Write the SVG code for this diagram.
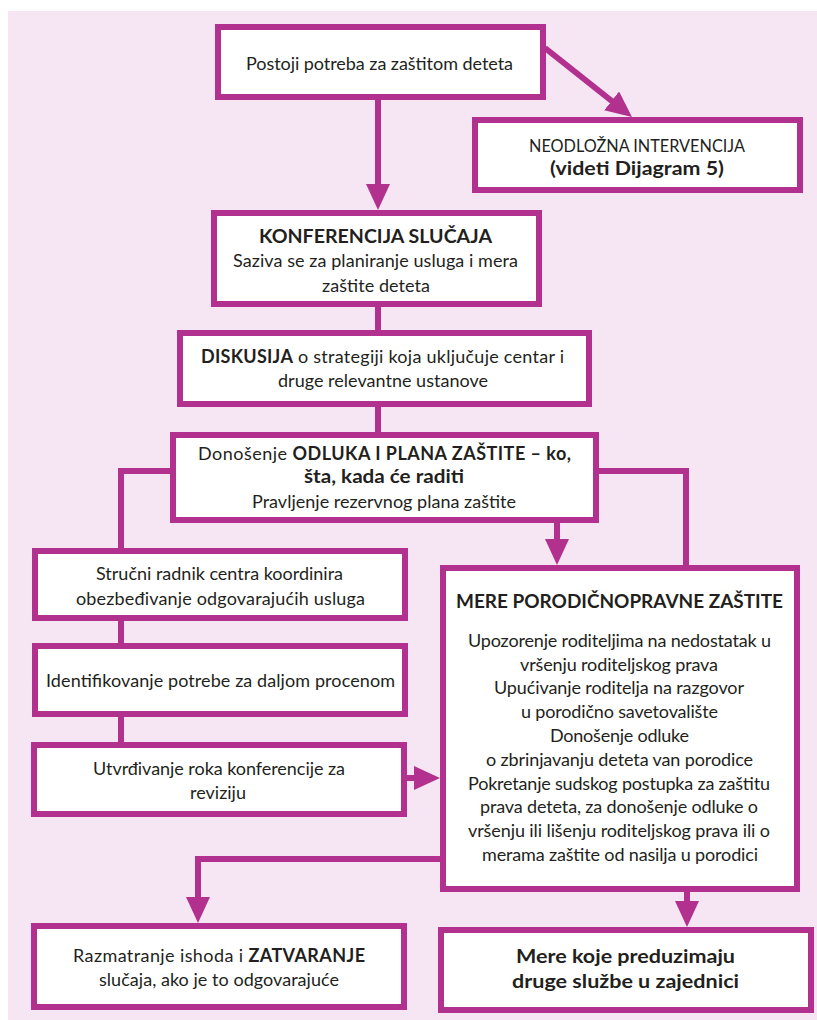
<svg xmlns="http://www.w3.org/2000/svg" width="817" height="1020" viewBox="0 0 817 1020">
<style>
.bg{fill:#f6e5f3}
.box{fill:#ffffff;stroke:#b2308e;stroke-width:6}
.con{fill:none;stroke:#b2308e;stroke-width:6;stroke-linejoin:miter}
text{font-family:Lato,"Noto Sans","DejaVu Sans",sans-serif;font-size:18px;fill:#231f20;text-anchor:middle}
.b{font-weight:700}
.sg{font-size:17px}
</style>
<defs>
<marker id="ah" markerUnits="userSpaceOnUse" viewBox="0 0 26 24" markerWidth="26" markerHeight="24" refX="1" refY="12" orient="auto">
<path d="M0,0 L26,12 L0,24 z" fill="#b2308e"/>
</marker>
</defs>
<rect class="bg" x="8" y="11" width="809" height="1009"/>
<g id="connectors">
<line class="con" x1="378" y1="100" x2="378" y2="185" marker-end="url(#ah)"/>
<line class="con" x1="545" y1="48" x2="612.4" y2="101.5" marker-end="url(#ah)"/>
<line class="con" x1="378" y1="307" x2="378" y2="330"/>
<line class="con" x1="378" y1="407" x2="378" y2="432"/>
<path class="con" d="M172,471 H121 V550"/>
<path class="con" d="M597,471 H686 V567"/>
<line class="con" x1="557" y1="523" x2="557" y2="540" marker-end="url(#ah)"/>
<line class="con" x1="121" y1="621" x2="121" y2="643"/>
<line class="con" x1="121" y1="717" x2="121" y2="742"/>
<line class="con" x1="407" y1="778" x2="415" y2="778" marker-end="url(#ah)"/>
<path class="con" d="M442,859 H198 V898" marker-end="url(#ah)"/>
<line class="con" x1="687" y1="892" x2="687" y2="902" marker-end="url(#ah)"/>
</g>
<g id="n1">
<rect class="box" x="218" y="27" width="325" height="70"/>
<text x="379.5" y="70" textLength="267">Postoji potreba za zaštitom deteta</text>
</g>
<g id="n2">
<rect class="box" x="475" y="120" width="325" height="70"/>
<text x="637" y="152" class="sg" textLength="216" lengthAdjust="spacingAndGlyphs">NEODLOŽNA INTERVENCIJA</text>
<text x="637" y="175" class="b" textLength="174" lengthAdjust="spacingAndGlyphs">(videti Dijagram 5)</text>
</g>
<g id="n3">
<rect class="box" x="214" y="213" width="325" height="91"/>
<text x="375.5" y="243" class="b" textLength="233" lengthAdjust="spacingAndGlyphs">KONFERENCIJA SLUČAJA</text>
<text x="375.5" y="267" textLength="285">Saziva se za planiranje usluga i mera</text>
<text x="376" y="292" textLength="108">zaštite deteta</text>
</g>
<g id="n4">
<rect class="box" x="180" y="333" width="409" height="71"/>
<text x="382.5" y="363" textLength="363"><tspan class="b">DISKUSIJA</tspan> o strategiji koja uključuje centar i</text>
<text x="383" y="387" textLength="210">druge relevantne ustanove</text>
</g>
<g id="n5">
<rect class="box" x="173" y="435" width="423" height="85"/>
<text x="384.5" y="460" textLength="373">Donošenje <tspan class="b">ODLUKA I PLANA ZAŠTITE – ko,</tspan></text>
<text x="384" y="483" class="b" textLength="160" lengthAdjust="spacingAndGlyphs">šta, kada će raditi</text>
<text x="384" y="508" textLength="264">Pravljenje rezervnog plana zaštite</text>
</g>
<g id="n6">
<rect class="box" x="35" y="551" width="370" height="67"/>
<text x="219.5" y="580" textLength="247">Stručni radnik centra koordinira</text>
<text x="220.5" y="605" textLength="289">obezbeđivanje odgovarajućih usluga</text>
</g>
<g id="n7">
<rect class="box" x="35" y="646" width="370" height="68"/>
<text x="220.5" y="687" textLength="349">Identifikovanje potrebe za daljom procenom</text>
</g>
<g id="n8">
<rect class="box" x="34" y="745" width="370" height="69"/>
<text x="219" y="775" textLength="252">Utvrđivanje roka konferencije za</text>
<text x="218" y="799" textLength="56">reviziju</text>
</g>
<g id="n9">
<rect class="box" x="443" y="568" width="354" height="321"/>
<text x="619.5" y="608" class="b" textLength="327" lengthAdjust="spacingAndGlyphs">MERE PORODIČNOPRAVNE ZAŠTITE</text>
<text x="619.5" y="647" textLength="303">Upozorenje roditeljima na nedostatak u</text>
<text x="619" y="671" textLength="198">vršenju roditeljskog prava</text>
<text x="619" y="694" textLength="250">Upućivanje roditelja na razgovor</text>
<text x="619.5" y="718" textLength="197">u porodično savetovalište</text>
<text x="619.5" y="742" textLength="139">Donošenje odluke</text>
<text x="619.5" y="766" textLength="267">o zbrinjavanju deteta van porodice</text>
<text x="619" y="790" textLength="302">Pokretanje sudskog postupka za zaštitu</text>
<text x="619" y="813" textLength="278">prava deteta, za donošenje odluke o</text>
<text x="619" y="837" textLength="302">vršenju ili lišenju roditeljskog prava ili o</text>
<text x="620" y="861" textLength="276">merama zaštite od nasilja u porodici</text>
</g>
<g id="n10">
<rect class="box" x="34" y="926" width="370" height="81"/>
<text x="219" y="962" textLength="292">Razmatranje ishoda i <tspan class="b">ZATVARANJE</tspan></text>
<text x="219" y="986" textLength="240">slučaja, ako je to odgovarajuće</text>
</g>
<g id="n11">
<rect class="box" x="441" y="930" width="370" height="80"/>
<text x="625.5" y="963" class="b" textLength="219" lengthAdjust="spacingAndGlyphs">Mere koje preduzimaju</text>
<text x="625.5" y="988" class="b" textLength="227" lengthAdjust="spacingAndGlyphs">druge službe u zajednici</text>
</g>
</svg>
